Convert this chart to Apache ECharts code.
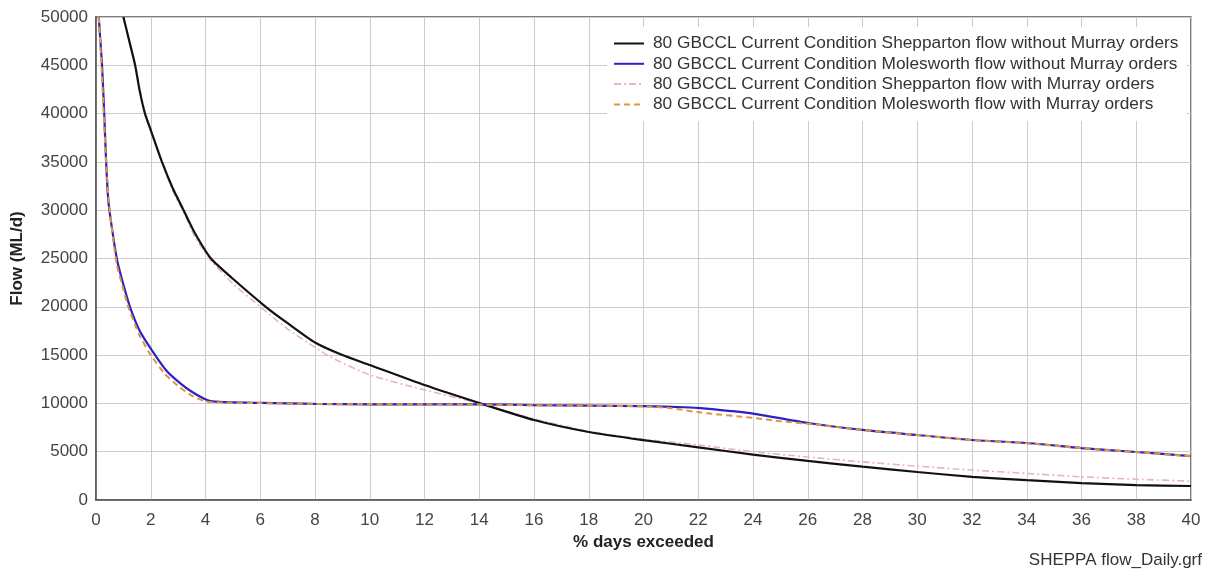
<!DOCTYPE html>
<html>
<head>
<meta charset="utf-8">
<script src="https://cdn.jsdelivr.net/npm/echarts@6/dist/echarts.min.js"></script>
<style>
  html, body { margin: 0; padding: 0; background: #ffffff; }
  #chart { width: 1218px; height: 576px; }
</style>
</head>
<body>
<div id="chart"></div>
<script>
// Flow duration curves: % of days a flow is exceeded vs. daily flow (ML/d)
const seriesNames = [
  '80 GBCCL Current Condition Shepparton flow without Murray orders',
  '80 GBCCL Current Condition Molesworth flow without Murray orders',
  '80 GBCCL Current Condition Shepparton flow with Murray orders',
  '80 GBCCL Current Condition Molesworth flow with Murray orders'
];

const xTicks = [0, 2, 4, 6, 8, 10, 12, 14, 16, 18, 20, 22, 24, 26, 28, 30, 32, 34, 36, 38, 40];
const yTicks = [0, 5000, 10000, 15000, 20000, 25000, 30000, 35000, 40000, 45000, 50000];

// Shepparton, without Murray orders
const sheppNoPct  = [1.0, 1.2, 1.43, 1.6, 1.79, 2.0, 2.41, 2.8, 3.2, 3.6, 4.2, 5.0, 6.2, 7.0, 8.0, 9.0, 10, 12, 14, 16, 18, 20, 22, 24, 26, 28, 30, 32, 34, 36, 38, 40];
const sheppNoFlow = [50000, 47700, 45000, 42300, 40000, 38300, 35000, 32300, 30000, 27700, 25000, 22900, 20000, 18300, 16300, 15000, 13970, 11900, 10040, 8280, 7040, 6200, 5450, 4700, 4050, 3450, 2900, 2400, 2050, 1750, 1550, 1450];

// Molesworth, without Murray orders
const molesNoPct  = [0.1, 0.22, 0.3, 0.37, 0.45, 0.6, 0.77, 1.0, 1.24, 1.6, 2.16, 2.6, 3.07, 3.5, 4.06, 4.5, 6, 8, 10, 12, 14, 16, 18, 20, 21.5, 22.1, 23.2, 24, 26, 28, 30, 32, 34, 36, 38, 40];
const molesNoFlow = [50000, 45000, 40000, 35000, 31000, 27800, 24850, 22300, 20000, 17500, 15000, 13300, 12100, 11200, 10350, 10150, 10050, 9950, 9900, 9900, 9900, 9820, 9780, 9720, 9600, 9520, 9210, 8950, 7970, 7250, 6730, 6210, 5900, 5380, 4970, 4550];

// Shepparton, with Murray orders
const sheppWithPct  = [1.0, 1.2, 1.43, 1.79, 2.0, 2.41, 2.8, 3.2, 3.6, 4.2, 5.0, 6.0, 7.0, 8.0, 8.56, 10, 12, 14, 16, 18, 20, 22, 24, 26, 28, 30, 32, 34, 36, 38, 40];
const sheppWithFlow = [50000, 47600, 45000, 40000, 38200, 35000, 32000, 29800, 27300, 24800, 22400, 20000, 17700, 15800, 14800, 12950, 11400, 10000, 8400, 7100, 6300, 5700, 5000, 4450, 3950, 3500, 3100, 2750, 2400, 2150, 1950];

// Molesworth, with Murray orders
const molesWithPct  = [0.1, 0.2, 0.28, 0.37, 0.48, 0.75, 1.0, 1.2, 1.6, 2.0, 2.5, 3.0, 3.5, 4.0, 4.5, 6, 8, 10, 12, 14, 16, 18, 20, 21, 22.1, 24, 25, 26, 28, 30, 32, 34, 36, 38, 40];
const molesWithFlow = [50000, 45000, 40000, 35000, 30500, 24500, 21800, 19800, 17000, 15000, 13100, 11800, 10800, 10200, 10100, 10030, 9950, 9900, 9900, 9880, 9800, 9760, 9700, 9500, 9050, 8500, 8150, 7900, 7250, 6730, 6200, 5880, 5370, 4960, 4540];

function pairs(xs, ys) {
  return xs.map((x, i) => [x, ys[i]]);
}

const FONT = '"Liberation Sans", Arial, sans-serif';

function lineSeries(name, pct, flow, color, width, dash, z) {
  return {
    name: name,
    type: 'line',
    data: pairs(pct, flow),
    showSymbol: false,
    symbol: 'none',
    smooth: 0.2,
    z: z,
    color: color,
    itemStyle: { color: color },
    lineStyle: { color: color, width: width, type: dash }
  };
}

const chart = echarts.init(document.getElementById('chart'), null, { renderer: 'canvas' });

chart.setOption({
  backgroundColor: '#ffffff',
  animation: false,
  textStyle: { fontFamily: FONT },
  title: {
    text: 'SHEPPA flow_Daily.grf',
    right: 11,
    bottom: 2,
    textStyle: { fontFamily: FONT, fontSize: 17, fontWeight: 'normal', color: '#333' }
  },
  grid: {
    left: 96,
    right: 27,
    top: 17,
    bottom: 76,
    show: true,
    borderColor: '#555',
    borderWidth: 1.5,
    backgroundColor: '#ffffff'
  },
  legend: {
    orient: 'vertical',
    left: 607,
    top: 27,
    itemWidth: 30,
    itemHeight: 12,
    itemGap: 3.3,
    padding: [8, 8, 8, 6],
    backgroundColor: '#ffffff',
    itemStyle: { opacity: 0 },
    textStyle: { fontFamily: FONT, fontSize: 17.3, color: '#333', padding: [0, 0, 0, 4] },
    data: seriesNames
  },
  xAxis: {
    type: 'value',
    min: xTicks[0],
    max: xTicks[xTicks.length - 1],
    interval: 2,
    name: '% days exceeded',
    nameLocation: 'middle',
    nameGap: 32,
    nameTextStyle: { fontFamily: FONT, fontSize: 17, fontWeight: 'bold', color: '#222' },
    axisLine: { show: true, lineStyle: { color: '#555', width: 1.5 } },
    axisTick: { show: false },
    axisLabel: { fontFamily: FONT, fontSize: 17, color: '#444', margin: 12 },
    splitLine: { show: true, lineStyle: { color: '#cccccc', width: 1 } }
  },
  yAxis: {
    type: 'value',
    min: yTicks[0],
    max: yTicks[yTicks.length - 1],
    interval: 5000,
    name: 'Flow (ML/d)',
    nameLocation: 'middle',
    nameGap: 70,
    nameRotate: 90,
    nameTextStyle: { fontFamily: FONT, fontSize: 17, fontWeight: 'bold', color: '#222' },
    axisLine: { show: true, lineStyle: { color: '#555', width: 1.5 } },
    axisTick: { show: false },
    axisLabel: {
      fontFamily: FONT, fontSize: 17, color: '#444', margin: 8,
      formatter: (v) => String(v)
    },
    splitLine: { show: true, lineStyle: { color: '#cccccc', width: 1 } }
  },
  series: [
    lineSeries(seriesNames[2], sheppWithPct, sheppWithFlow, '#e4b2d6', 1.6, [7, 3, 2, 3], 2),
    lineSeries(seriesNames[0], sheppNoPct, sheppNoFlow, '#111111', 2.2, 'solid', 3),
    lineSeries(seriesNames[1], molesNoPct, molesNoFlow, '#2a22c8', 2.2, 'solid', 3),
    lineSeries(seriesNames[3], molesWithPct, molesWithFlow, '#e0963a', 2, [6, 4], 4)
  ]
});
</script>
</body>
</html>
